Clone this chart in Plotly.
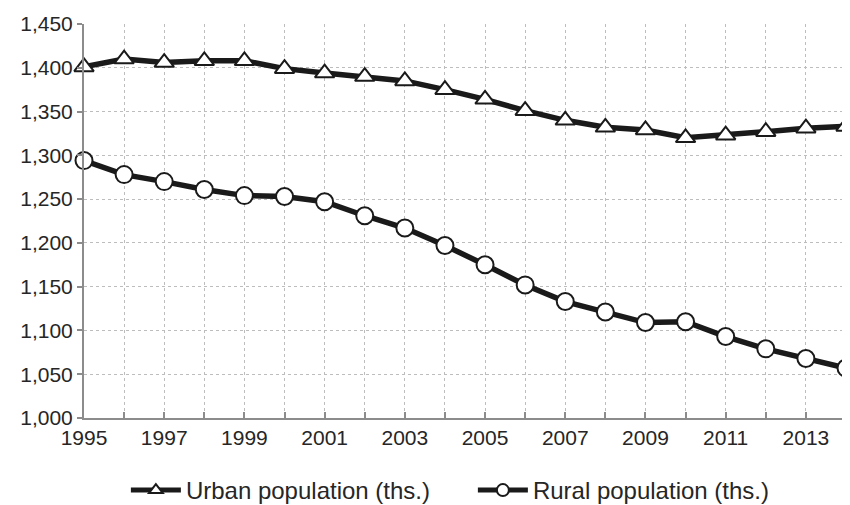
import plotly.graph_objects as go

years = list(range(1995, 2015))
urban = [1401, 1410, 1406, 1408, 1408, 1399, 1394, 1390, 1385, 1375, 1364, 1351, 1340,
         1332, 1329, 1320, 1323, 1327, 1331, 1333]
rural = [1294, 1278, 1270, 1261, 1254, 1253, 1247, 1231, 1217, 1197, 1175, 1152, 1133,
         1121, 1109, 1110, 1093, 1079, 1068, 1057]
x_tick_labels = [str(y) for y in range(1995, 2014, 2)]
y_ticks = list(range(1000, 1451, 50))

line_col = "#1a1a1a"
font_fam = "Liberation Sans, Arial, sans-serif"
text_col = "#262626"
grid_col = "#bdbdbd"
axis_col = "#8c8c8c"

fig = go.Figure()
fig.add_trace(go.Scatter(
    x=years, y=urban, name="Urban population (ths.)", mode="lines+markers",
    line=dict(color=line_col, width=5.5),
    marker=dict(symbol="triangle-up", size=17, color="white",
                line=dict(color=line_col, width=2)),
    cliponaxis=False,
))
fig.add_trace(go.Scatter(
    x=years, y=rural, name="Rural population (ths.)", mode="lines+markers",
    line=dict(color=line_col, width=5.5),
    marker=dict(symbol="circle", size=17, color="white",
                line=dict(color=line_col, width=2)),
    cliponaxis=False,
))

fig.update_layout(
    width=842, height=505,
    margin=dict(l=76, r=4, t=14, b=95),
    paper_bgcolor="white", plot_bgcolor="white",
    font=dict(family=font_fam, size=21, color=text_col),
    showlegend=True,
    legend=dict(orientation="h", xref="container", yref="container",
                x=0.14, xanchor="left", y=0.0, yanchor="bottom",
                font=dict(size=24, color=text_col), itemwidth=50,
                itemsizing="constant",
                entrywidth=282, entrywidthmode="pixels",
                bgcolor="rgba(0,0,0,0)"),
    xaxis=dict(
        range=[1995, 2014], tickmode="array",
        tickvals=[int(t) for t in x_tick_labels], ticktext=x_tick_labels,
        showgrid=True, gridcolor=grid_col, griddash="dot", gridwidth=1,
        ticks="inside", ticklen=6, tickcolor=axis_col, tickwidth=1.5,
        showline=True, linecolor=axis_col, linewidth=2,
        zeroline=False,
        minor=dict(dtick=1, tick0=1995, showgrid=True, gridcolor=grid_col,
                   griddash="dot", gridwidth=1, ticks="inside", ticklen=6,
                   tickcolor=axis_col, tickwidth=1.5),
        tickfont=dict(size=21, color=text_col),
    ),
    yaxis=dict(
        range=[1000, 1450], tickmode="array", tickvals=y_ticks,
        tickformat=",",
        showgrid=True, gridcolor=grid_col, griddash="dot", gridwidth=1,
        ticks="outside", ticklen=5, tickcolor=axis_col, tickwidth=1.5,
        showline=True, linecolor=axis_col, linewidth=2,
        zeroline=False,
        tickfont=dict(size=21, color=text_col),
    ),
)

fig.write_html("out.html")
